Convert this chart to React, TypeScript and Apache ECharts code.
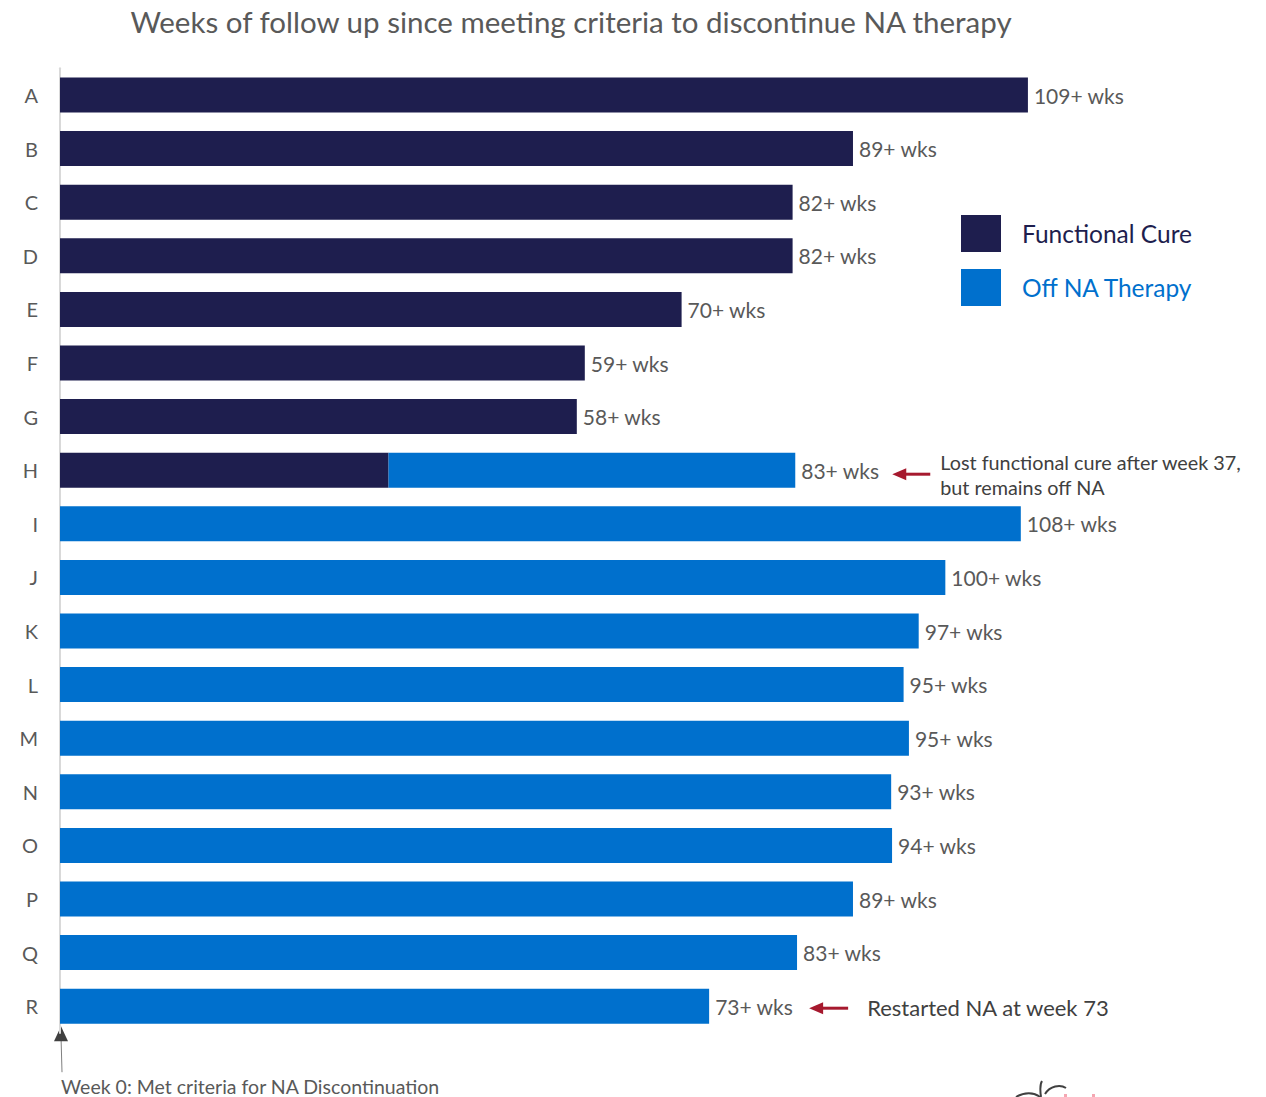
import React, { useEffect, useRef } from "react";
import * as echarts from "echarts";

const categories = ["A", "B", "C", "D", "E", "F", "G", "H", "I", "J", "K", "L", "M", "N", "O", "P", "Q", "R"];
const labelWeeks = [109, 89, 82, 82, 70, 59, 58, 83, 108, 100, 97, 95, 95, 93, 94, 89, 83, 73];
const barWeeks = [109, 89.3, 82.5, 82.5, 70, 59.1, 58.2, 82.8, 108.2, 99.7, 96.7, 95, 95.6, 93.6, 93.7, 89.3, 83, 73.1];
const cureWeeks = [109, 89.3, 82.5, 82.5, 70, 59.1, 58.2, 37, 0, 0, 0, 0, 0, 0, 0, 0, 0, 0];
const seriesNames = ["Functional Cure", "Off NA Therapy"];
const seriesColors = ["#1E1E4E", "#0070CD"];
const titleText = "Weeks of follow up since meeting criteria to discontinue NA therapy";
const noteH = ["Lost functional cure after week 37,", "but remains off NA"];
const noteR = "Restarted NA at week 73";
const noteZero = "Week 0: Met criteria for NA Discontinuation";

const FONT = "Lato, 'Open Sans', sans-serif";
const GRAY = "#595959";
const RED = "#A6192E";

export default function App() {
  const ref = useRef<HTMLDivElement>(null);
  useEffect(() => {
    document.body.style.margin = "0";
    const chart = echarts.init(ref.current!, undefined, { renderer: "svg" });
    const offNA = barWeeks.map((v, i) => +(v - cureWeeks[i]).toFixed(2));
    const labelCfg = (i: number) => ({
      show: true,
      position: "right" as const,
      distance: 6,
      formatter: `${labelWeeks[i]}+ wks`,
      color: GRAY,
      fontSize: 21,
      fontFamily: FONT,
    });
    const cureData = cureWeeks.map((v, i) =>
      v > 0 ? { value: v, label: offNA[i] > 0 ? { show: false } : labelCfg(i) } : { value: "-" }
    );
    const offData = offNA.map((v, i) => (v > 0 ? { value: v, label: labelCfg(i) } : { value: "-" }));

    const option: any = {
      animation: false,
      textStyle: { fontFamily: FONT },
      title: {
        text: titleText,
        left: 566,
        top: 1,
        textAlign: "center",
        textStyle: { color: GRAY, fontSize: 29.5, fontWeight: "normal", fontFamily: FONT },
      },
      legend: {
        orient: "vertical",
        left: 956,
        top: 210,
        itemWidth: 40,
        itemHeight: 37,
        itemGap: 17,
        icon: "rect",
        selectedMode: false,
        data: seriesNames.map((n, i) => ({
          name: n,
          textStyle: { color: seriesColors[i], fontSize: 24.5, fontFamily: FONT, padding: [0, 0, 0, 16] },
        })),
      },
      grid: { left: 60, top: 68.2, width: 1065.6, height: 964.8, containLabel: false },
      xAxis: {
        type: "value",
        min: 0,
        max: 120,
        show: false,
      },
      yAxis: {
        type: "category",
        data: categories,
        inverse: true,
        axisLine: { show: true, lineStyle: { color: "#D9D9D9", width: 2 } },
        axisTick: { show: false },
        axisLabel: { color: GRAY, fontSize: 20, fontFamily: FONT, margin: 22 },
      },
      series: [
        {
          name: seriesNames[0],
          type: "bar",
          stack: "total",
          barWidth: 35,
          itemStyle: { color: seriesColors[0] },
          data: cureData,
        },
        {
          name: seriesNames[1],
          type: "bar",
          stack: "total",
          barWidth: 35,
          itemStyle: { color: seriesColors[1] },
          data: offData,
        },
      ],
    };
    chart.setOption(option);

    const iH = categories.indexOf("H");
    const iR = categories.indexOf("R");
    const pH = chart.convertToPixel({ gridIndex: 0 }, [barWeeks[iH], categories[iH]]) as number[];
    const pR = chart.convertToPixel({ gridIndex: 0 }, [barWeeks[iR], categories[iR]]) as number[];
    const p0 = chart.convertToPixel({ gridIndex: 0 }, [0, categories[iR]]) as number[];

    const arrow = (headX: number, tailX: number, y: number) => [
      { type: "line", shape: { x1: headX + 10, y1: y, x2: tailX, y2: y }, style: { stroke: RED, lineWidth: 3 } },
      {
        type: "polygon",
        shape: { points: [[headX, y], [headX + 14, y - 6], [headX + 14, y + 6]] },
        style: { fill: RED },
      },
    ];
    const graphic: any[] = [
      ...arrow(pH[0] + 97, pH[0] + 135, pH[1] + 4),
      {
        type: "text",
        x: pH[0] + 145,
        y: pH[1] - 8,
        style: { text: noteH[0], fill: "#404040", fontSize: 19.8, fontFamily: FONT, verticalAlign: "middle" },
      },
      {
        type: "text",
        x: pH[0] + 145,
        y: pH[1] + 17,
        style: { text: noteH[1], fill: "#404040", fontSize: 19.8, fontFamily: FONT, verticalAlign: "middle" },
      },
      ...arrow(pR[0] + 100, pR[0] + 139, pR[1] + 2),
      {
        type: "text",
        x: pR[0] + 158,
        y: pR[1] + 1,
        style: { text: noteR, fill: "#404040", fontSize: 22, fontFamily: FONT, verticalAlign: "middle" },
      },
      {
        type: "line",
        shape: { x1: p0[0] + 2, y1: p0[1] + 66, x2: p0[0] + 1, y2: p0[1] + 30 },
        style: { stroke: "#7F7F7F", lineWidth: 1 },
      },
      {
        type: "polygon",
        shape: { points: [[p0[0] + 1, p0[1] + 20], [p0[0] - 6, p0[1] + 35], [p0[0] + 8, p0[1] + 35]] },
        style: { fill: "#404040" },
      },
      {
        type: "text",
        x: p0[0] + 1,
        y: p0[1] + 80,
        style: { text: noteZero, fill: GRAY, fontSize: 19.5, fontFamily: FONT, verticalAlign: "middle" },
      },
      {
        type: "bezierCurve",
        shape: { x1: 1016, y1: 1097, x2: 1040, y2: 1097, cpx1: 1024, cpy1: 1092, cpx2: 1034, cpy2: 1092 },
        style: { stroke: "#404040", lineWidth: 2, fill: "none" },
      },
      {
        type: "bezierCurve",
        shape: { x1: 1041, y1: 1097, x2: 1042, y2: 1081, cpx1: 1040, cpy1: 1090, cpx2: 1040, cpy2: 1084 },
        style: { stroke: "#404040", lineWidth: 2, fill: "none" },
      },
      {
        type: "bezierCurve",
        shape: { x1: 1045, y1: 1094, x2: 1066, y2: 1088, cpx1: 1050, cpy1: 1086, cpx2: 1060, cpy2: 1084 },
        style: { stroke: "#404040", lineWidth: 2, fill: "none" },
      },
      { type: "rect", shape: { x: 1064, y: 1094, width: 3, height: 3 }, style: { fill: "#F4A7B2" } },
      { type: "rect", shape: { x: 1092, y: 1094, width: 3, height: 3 }, style: { fill: "#F4A7B2" } },
    ];
    chart.setOption({ graphic });

    return () => chart.dispose();
  }, []);
  return <div ref={ref} style={{ width: 1266, height: 1097 }} />;
}
